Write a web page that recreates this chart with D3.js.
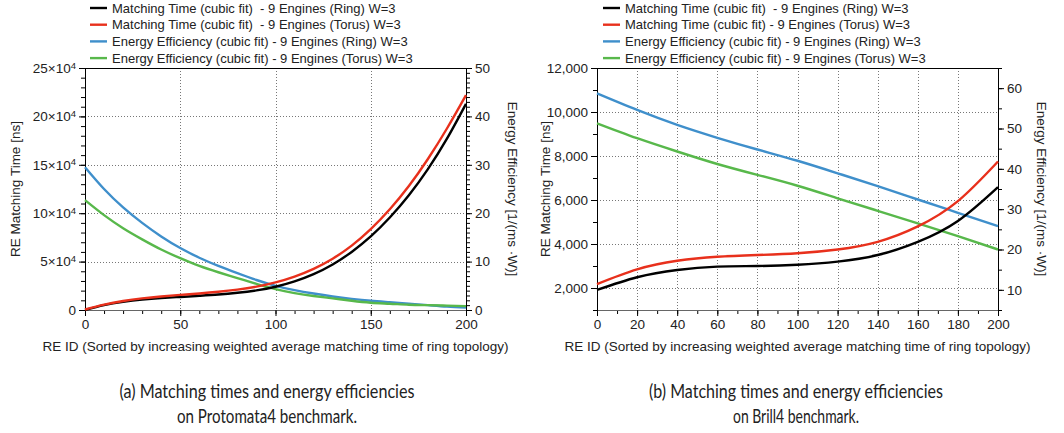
<!DOCTYPE html>
<html>
<head>
<meta charset="utf-8">
<script src="https://cdn.jsdelivr.net/npm/d3@7"></script>
<style>
  body { margin: 0; background: #fff; }
  svg { display: block; font-family: "Liberation Sans", Arial, Helvetica, sans-serif; }
  .legend text { white-space: pre; }
</style>
</head>
<body>
<div id="chart"></div>
<script>
// ---- data ----

// legend labels (left panel / right panel)
var legendA = [
  "Matching Time (cubic fit)  - 9 Engines (Ring) W=3",
  "Matching Time (cubic fit)  - 9 Engines (Torus) W=3",
  "Energy Efficiency (cubic fit) - 9 Engines (Ring) W=3",
  "Energy Efficiency (cubic fit) - 9 Engines (Torus) W=3"
];
var legendB = [
  "Matching Time (cubic fit)  - 9 Engines (Ring) W=3",
  "Matching Time (cubic fit) - 9 Engines (Torus) W=3",
  "Energy Efficiency (cubic fit) - 9 Engines (Ring) W=3",
  "Energy Efficiency (cubic fit) - 9 Engines (Torus) W=3"
];

// (a) Protomata4
var idsA = [0, 10, 20, 30, 40, 50, 60, 70, 80, 90, 100, 110, 120, 130, 140, 150, 160, 170, 180, 190, 200];
var timeRingA = [0, 5000, 8400, 10700, 12300, 13500, 14700, 16000, 17800, 20300, 24000,
                 29500, 37000, 47000, 60000, 76000, 95500, 118500, 145500, 177000, 213000];
var timeTorusA = [500, 5500, 9300, 12000, 14000, 15600, 17100, 18800, 21000, 24100, 28500,
                  34500, 42500, 53000, 66500, 83500, 104000, 128000, 156000, 187500, 222000];
var effRingA = [29.5, 25.0, 21.2, 18.0, 15.2, 12.8, 10.8, 9.1, 7.6, 6.2, 5.0,
                4.1, 3.4, 2.8, 2.3, 1.9, 1.6, 1.3, 1.0, 0.7, 0.5];
var effTorusA = [22.7, 19.6, 16.9, 14.6, 12.5, 10.7, 9.1, 7.8, 6.6, 5.4, 4.3,
                 3.5, 2.9, 2.4, 1.9, 1.5, 1.3, 1.1, 1.0, 0.9, 0.8];

// (b) Brill4
var idsB = [0, 20, 40, 60, 80, 100, 120, 140, 160, 180, 200];
var timeRingB = [1910, 2490, 2820, 2970, 3000, 3060, 3200, 3500, 4100, 5050, 6590];
var timeTorusB = [2180, 2850, 3240, 3420, 3500, 3580, 3750, 4100, 4800, 5950, 7750];
var effRingB = [58.7, 54.6, 50.9, 47.7, 44.8, 42.0, 38.9, 35.7, 32.4, 29.1, 25.8];
var effTorusB = [51.3, 47.6, 44.3, 41.2, 38.5, 35.8, 32.7, 29.6, 26.5, 23.3, 20.0];

// tick values
var xTicksA = [0, 50, 100, 150, 200];
var yTicksA = [0, 50000, 100000, 150000, 200000, 250000];
var y2TicksA = [0, 10, 20, 30, 40, 50];
var xTicksB = [0, 20, 40, 60, 80, 100, 120, 140, 160, 180, 200];
var yTicksB = [2000, 4000, 6000, 8000, 10000, 12000];
var y2TicksB = [10, 20, 30, 40, 50, 60];

var captionA = ["(a) Matching times and energy efficiencies", "on Protomata4 benchmark."];
var captionB = ["(b) Matching times and energy efficiencies", "on Brill4 benchmark."];

var colors = ["#000000", "#e8301c", "#3f8fcb", "#58b84b"];

// ---- drawing ----
var svgWidth = 1064;
var svgHeight = 433;

var svg = d3.select("#chart")
  .append("svg")
  .attr("width", svgWidth)
  .attr("height", svgHeight);

function drawPanel(p) {
  var top = 68, bottom = 310;

  var xScale = d3.scaleLinear().domain([0, 200]).range([p.left, p.right]);
  var yScale = d3.scaleLinear().domain(p.yDomain).range([bottom, top]);
  var y2Scale = d3.scaleLinear().domain(p.y2Domain).range([bottom, top]);

  var g = svg.append("g");

  // dotted grid
  var grid = g.append("g")
    .attr("stroke", "#777")
    .attr("stroke-width", 1)
    .attr("stroke-dasharray", "1,2");
  grid.selectAll(".gx")
    .data(p.xTicks.filter(d => d > 0 && d < 200))
    .enter().append("line")
    .attr("x1", d => Math.round(xScale(d)) + 0.5)
    .attr("x2", d => Math.round(xScale(d)) + 0.5)
    .attr("y1", top).attr("y2", bottom);
  grid.selectAll(".gy")
    .data(p.yTicks.filter(d => d > p.yDomain[0] && d < p.yDomain[1]))
    .enter().append("line")
    .attr("y1", d => Math.round(yScale(d)) + 0.5)
    .attr("y2", d => Math.round(yScale(d)) + 0.5)
    .attr("x1", p.left).attr("x2", p.right);

  // minor ticks
  g.append("g")
    .attr("transform", `translate(0, ${bottom})`)
    .call(d3.axisBottom(xScale).tickValues(d3.range(0, 201, 10)).tickSize(4).tickFormat(""))
    .call(a => a.select(".domain").remove());
  g.append("g")
    .attr("transform", `translate(${p.left}, 0)`)
    .call(d3.axisLeft(yScale).tickValues(d3.range(p.yMinor[0], p.yDomain[1] + 1, p.yMinor[1])).tickSize(4).tickFormat(""))
    .call(a => a.select(".domain").remove());
  g.append("g")
    .attr("transform", `translate(${p.right}, 0)`)
    .call(d3.axisRight(y2Scale).tickValues(d3.range(p.y2Minor[0], p.y2Domain[1] + 0.001, p.y2Minor[1])).tickSize(4).tickFormat(""))
    .call(a => a.select(".domain").remove());

  // major axes
  var xAxis = g.append("g")
    .attr("transform", `translate(0, ${bottom})`)
    .call(d3.axisBottom(xScale).tickValues(p.xTicks).tickSize(6).tickSizeOuter(0));
  var yAxis = g.append("g")
    .attr("transform", `translate(${p.left}, 0)`)
    .call(d3.axisLeft(yScale).tickValues(p.yTicks).tickSize(6).tickSizeOuter(0).tickFormat(p.yFormat));
  var y2Axis = g.append("g")
    .attr("transform", `translate(${p.right}, 0)`)
    .call(d3.axisRight(y2Scale).tickValues(p.y2Ticks).tickSize(6).tickSizeOuter(0));

  [xAxis, yAxis, y2Axis].forEach(function(a) {
    a.selectAll("text")
      .attr("font-size", 13.5)
      .attr("font-family", "Liberation Sans, Arial, sans-serif")
      .attr("fill", "#222");
  });
  xAxis.select(".domain").attr("stroke", "#666");

  // superscript labels like 25x10^4
  if (p.sci) {
    yAxis.selectAll(".tick text").each(function(d) {
      var t = d3.select(this).text("");
      if (d === 0) { t.text("0"); return; }
      t.append("tspan").text((d / 10000) + "\u00d710");
      t.append("tspan").attr("dy", "-0.45em").attr("font-size", 9.5).text("4");
    });
  }

  // top border
  g.append("line")
    .attr("x1", p.left).attr("x2", p.right)
    .attr("y1", top + 0.5).attr("y2", top + 0.5)
    .attr("stroke", "#000");

  // lines
  var series = [
    { x: p.ids, y: p.timeRing, scale: yScale },
    { x: p.ids, y: p.timeTorus, scale: yScale },
    { x: p.ids, y: p.effRing, scale: y2Scale },
    { x: p.ids, y: p.effTorus, scale: y2Scale }
  ];
  var draw = [2, 3, 0, 1];
  draw.forEach(function(i) {
    var s = series[i];
    var line = d3.line()
      .x((d, j) => xScale(s.x[j]))
      .y(d => s.scale(d))
      .curve(d3.curveNatural);
    g.append("path")
      .attr("d", line(s.y))
      .attr("fill", "none")
      .attr("stroke", colors[i])
      .attr("stroke-width", 2.4);
  });

  // legend
  var legend = g.append("g").attr("class", "legend");
  p.legend.forEach(function(label, i) {
    var ly = 8 + i * 16.7;
    legend.append("line")
      .attr("x1", p.legendX).attr("x2", p.legendX + 17)
      .attr("y1", ly).attr("y2", ly)
      .attr("stroke", colors[i]).attr("stroke-width", 2.4);
    legend.append("text")
      .attr("x", p.legendX + 22)
      .attr("y", ly)
      .attr("dy", "0.35em")
      .attr("font-size", 13)
      .attr("fill", "#222")
      .text(label);
  });

  // axis titles
  g.append("text")
    .attr("transform", `translate(${p.yTitleX}, 189) rotate(-90)`)
    .attr("text-anchor", "middle")
    .attr("dy", "0.35em")
    .attr("font-size", 13.5)
    .attr("fill", "#222")
    .text("RE Matching Time [ns]");
  g.append("text")
    .attr("transform", `translate(${p.y2TitleX}, 189) rotate(90)`)
    .attr("text-anchor", "middle")
    .attr("dy", "0.35em")
    .attr("font-size", 13.5)
    .attr("fill", "#222")
    .text("Energy Efficiency [1/(ms \u00b7W)]");
  g.append("text")
    .attr("x", (p.left + p.right) / 2)
    .attr("y", 351)
    .attr("text-anchor", "middle")
    .attr("font-size", 13.5)
    .attr("fill", "#222")
    .text("RE ID (Sorted by increasing weighted average matching time of ring topology)");

  // caption
  p.caption.forEach(function(c, i) {
    g.append("text")
      .attr("x", p.captionX)
      .attr("y", 398 + i * 25)
      .attr("text-anchor", "middle")
      .attr("font-family", "Liberation Sans Narrow, Lato, sans-serif")
      .attr("font-size", 18.5)
      .attr("fill", "#222")
      .attr("textLength", p.captionLen[i])
      .attr("lengthAdjust", "spacingAndGlyphs")
      .text(c);
  });
}

drawPanel({
  left: 85, right: 466,
  ids: idsA, timeRing: timeRingA, timeTorus: timeTorusA, effRing: effRingA, effTorus: effTorusA,
  yDomain: [0, 250000], y2Domain: [0, 50],
  xTicks: xTicksA, yTicks: yTicksA, y2Ticks: y2TicksA,
  yMinor: [0, 10000], y2Minor: [0, 1],
  yFormat: d3.format("d"), sci: true,
  legend: legendA, legendX: 90,
  yTitleX: 15, y2TitleX: 513,
  caption: captionA, captionX: 267, captionLen: [295, 180]
});

drawPanel({
  left: 597, right: 998,
  ids: idsB, timeRing: timeRingB, timeTorus: timeTorusB, effRing: effRingB, effTorus: effTorusB,
  yDomain: [1000, 12000], y2Domain: [5, 65],
  xTicks: xTicksB, yTicks: yTicksB, y2Ticks: y2TicksB,
  yMinor: [1000, 1000], y2Minor: [5, 5],
  yFormat: d3.format(","), sci: false,
  legend: legendB, legendX: 603,
  yTitleX: 545, y2TitleX: 1042,
  caption: captionB, captionX: 796, captionLen: [294, 126]
});
</script>
</body>
</html>
